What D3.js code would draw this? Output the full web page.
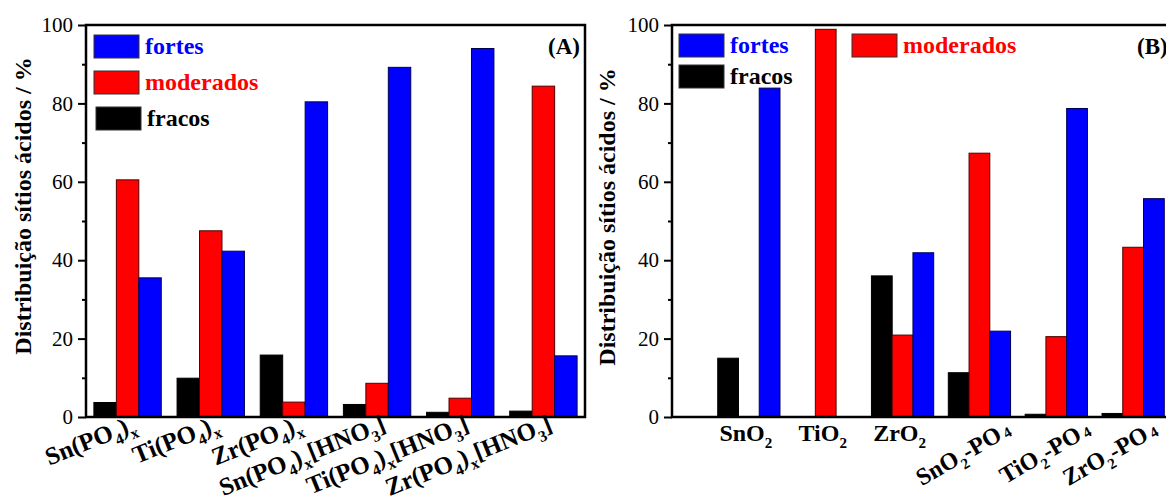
<!DOCTYPE html>
<html>
<head>
<meta charset="utf-8">
<script src="https://cdn.jsdelivr.net/npm/d3@7"></script>
<style>
  body { margin: 0; background: #fff; }
  text { font-family: "Liberation Serif", "Times New Roman", serif; }
</style>
</head>
<body>
<svg id="chart" width="1166" height="499"></svg>
<script>
// "_" = subscript char, "~" = small char slightly lowered
const catsA = ["Sn(PO_4)_x", "Ti(PO_4)_x", "Zr(PO_4)_x", "Sn(PO_4)_x[HNO_3]", "Ti(PO_4)_x[HNO_3]", "Zr(PO_4)_x[HNO_3]"];
const catsB = ["SnO_2", "TiO_2", "ZrO_2", "SnO_2-PO~4", "TiO_2-PO~4", "ZrO_2-PO~4"];
const seriesNames = ["fracos", "moderados", "fortes"];
const seriesColors = { fracos: "#000000", moderados: "#ff0000", fortes: "#0000ff" };

const fracosA    = [3.7, 9.9, 15.8, 3.2, 1.2, 1.5];
const moderadosA = [60.5, 47.5, 3.8, 8.6, 4.8, 84.4];
const fortesA    = [35.5, 42.3, 80.4, 89.2, 94.0, 15.6];

const fracosB    = [15.0, 0, 36.0, 11.3, 0.7, 0.9];
const moderadosB = [0, 98.9, 20.9, 67.3, 20.5, 43.3];
const fortesB    = [83.9, 0, 41.9, 21.9, 78.7, 55.7];

const yTicks = [0, 20, 40, 60, 80, 100];
const yMinor = [10, 30, 50, 70, 90];
const yTitle = "Distribuição sítios ácidos / %";

const FONT = "Liberation Serif";
const svg = d3.select("#chart");
const y = d3.scaleLinear().domain([0, 100]).range([417, 25]);

function richText(sel, str, size, subSize) {
  const parts = [];
  for (let i = 0; i < str.length; i++) {
    const c = str[i];
    if ((c === "_" || c === "~") && i + 1 < str.length) {
      parts.push({ t: str[i + 1], kind: c });
      i++;
    } else {
      if (parts.length && parts[parts.length - 1].kind === "n") parts[parts.length - 1].t += c;
      else parts.push({ t: c, kind: "n" });
    }
  }
  let shift = 0;
  parts.forEach(p => {
    const want = p.kind === "_" ? 7 : p.kind === "~" ? 1 : 0;
    sel.append("tspan")
      .attr("dy", want - shift)
      .attr("font-size", p.kind === "n" ? size : subSize)
      .text(p.kind === "~" ? "\u2009" + p.t : p.t);
    shift = want;
  });
}

function drawAxes(x0, x1, titleX, titleY) {
  const g = svg.append("g");
  const axis = d3.axisLeft(y).tickValues(yTicks).tickSize(8).tickPadding(5);
  const ga = g.append("g").attr("transform", `translate(${x0},0)`).call(axis);
  ga.attr("font-family", FONT);
  ga.select(".domain").remove();
  ga.selectAll(".tick line").attr("stroke", "#000").attr("stroke-width", 2);
  ga.selectAll(".tick text").attr("font-size", 21).attr("font-family", FONT).attr("fill", "#000");
  g.append("g").attr("transform", `translate(${x0},0)`)
    .call(d3.axisLeft(y).tickValues(yMinor).tickSize(4).tickFormat(""))
    .call(s => s.select(".domain").remove())
    .selectAll(".tick line").attr("stroke", "#000").attr("stroke-width", 2);

  // frame
  g.append("path")
    .attr("d", `M${x0},${y(100)}V${y(0)}H${x1}V${y(100)}Z`)
    .attr("fill", "none").attr("stroke", "#000").attr("stroke-width", 2.5);

  g.append("text")
    .attr("transform", `translate(${titleX},${titleY}) rotate(-90)`)
    .attr("text-anchor", "middle")
    .attr("font-family", FONT)
    .attr("font-size", 24).attr("font-weight", "bold")
    .text(yTitle);
}

function drawBars(groupCenter, groupWidth, data) {
  const inner = d3.scaleBand().domain(seriesNames).range([-groupWidth / 2, groupWidth / 2]);
  seriesNames.forEach(s => {
    svg.append("g").selectAll("rect")
      .data(data[s].map((v, i) => ({ v, i })).filter(d => d.v > 0))
      .enter().append("rect")
      .attr("x", d => groupCenter(d.i) + inner(s))
      .attr("y", d => y(d.v))
      .attr("width", inner.bandwidth())
      .attr("height", d => y(0) - y(d.v))
      .attr("fill", seriesColors[s])
      .attr("stroke", s === "fortes" ? "#000050" : s === "moderados" ? "#500000" : "#000")
      .attr("stroke-width", 1);
  });
}

function legendItem(x, yTop, name) {
  svg.append("rect")
    .attr("x", x).attr("y", yTop).attr("width", 45).attr("height", 23)
    .attr("fill", seriesColors[name]).attr("stroke", "#333").attr("stroke-width", 1);
  svg.append("text")
    .attr("x", x + 51).attr("y", yTop + 19)
    .attr("font-family", FONT)
    .attr("font-size", 24).attr("font-weight", "bold")
    .attr("fill", seriesColors[name])
    .text(name);
}

// ---------- Panel A ----------
const xA = d3.scaleBand().domain(catsA).range([86, 585]).paddingInner(0.19).paddingOuter(0.095);
drawBars(i => xA(catsA[i]) + xA.bandwidth() / 2, xA.bandwidth(),
  { fracos: fracosA, moderados: moderadosA, fortes: fortesA });
drawAxes(86, 585, 31, 206);

catsA.forEach(c => {
  const cx = xA(c) + xA.bandwidth() / 2 + 10, cy = 430;
  const t = svg.append("text")
    .attr("x", cx).attr("y", cy)
    .attr("text-anchor", "end")
    .attr("transform", `rotate(-22,${cx},${cy})`)
    .attr("font-family", FONT)
    .attr("font-weight", "bold");
  richText(t, c, 25, 16);
});

legendItem(94, 35, "fortes");
legendItem(94, 71, "moderados");
legendItem(96, 107, "fracos");
svg.append("text").attr("x", 580).attr("y", 54).attr("text-anchor", "end")
  .attr("font-family", FONT)
  .attr("font-size", 23).attr("font-weight", "bold").text("(A)");

// ---------- Panel B ----------
const xB = d3.scaleLinear().domain([0, catsB.length + 1]).range([672, 1210]);
const groupW = 0.81 * (xB(1) - xB(0));
drawBars(i => xB(i + 1), groupW, { fracos: fracosB, moderados: moderadosB, fortes: fortesB });
drawAxes(672, 1210, 615, 217);

const rotEndDx = [0, 0, 0, 33, 36, 26];
catsB.forEach((c, i) => {
  const t = svg.append("text").attr("font-weight", "bold").attr("font-family", FONT);
  if (i < 3) {
    t.attr("x", xB(i + 1) - 3).attr("y", 441).attr("text-anchor", "middle");
  } else {
    const cx = xB(i + 1) + rotEndDx[i], cy = 434;
    t.attr("x", cx).attr("y", cy).attr("text-anchor", "end")
      .attr("transform", `rotate(-30,${cx},${cy})`);
  }
  richText(t, c, 24, 15);
});

legendItem(679, 34, "fortes");
legendItem(679, 65, "fracos");
legendItem(852, 34, "moderados");
svg.append("text").attr("x", 1137).attr("y", 54)
  .attr("font-family", FONT)
  .attr("font-size", 23).attr("font-weight", "bold").text("(B)");
</script>
</body>
</html>
